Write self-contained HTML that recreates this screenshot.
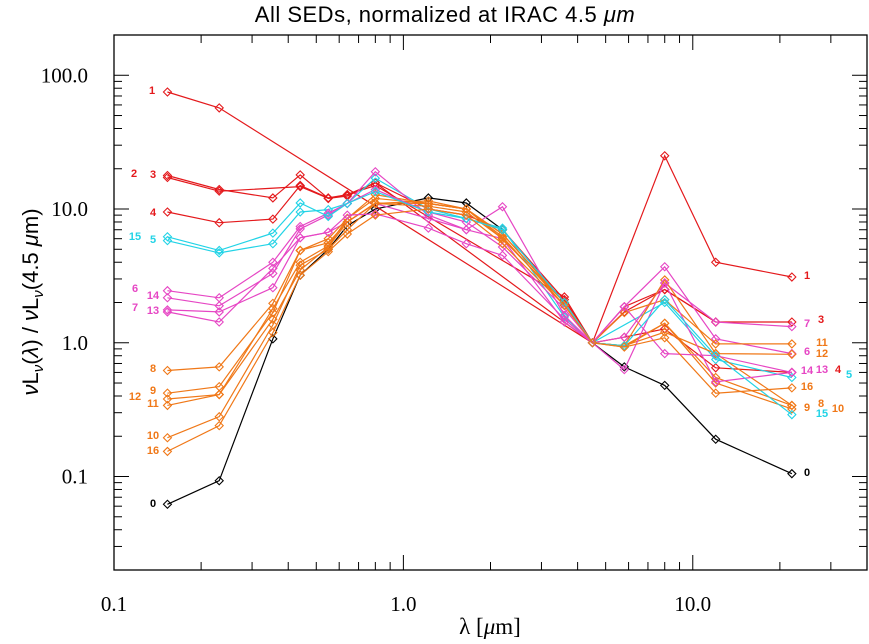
<!DOCTYPE html>
<html><head><meta charset="utf-8"><style>
body{margin:0;background:#fff;}
svg text{font-family:"Liberation Sans",sans-serif;}
svg text.serif{font-family:"Liberation Serif",serif;}
</style></head><body>
<svg id="chart" width="869" height="639" xmlns="http://www.w3.org/2000/svg">
<text x="445" y="22" text-anchor="middle" font-size="22" fill="#000" letter-spacing="0.5">All SEDs, normalized at IRAC 4.5 <tspan font-style="italic">μm</tspan></text>
<text class="serif" x="490" y="634" text-anchor="middle" font-size="23" fill="#000">λ [<tspan font-style="italic">μ</tspan>m]</text>
<text transform="translate(38,302) rotate(-90)" text-anchor="middle" font-size="22" fill="#000"><tspan font-style="italic">ν</tspan>L<tspan font-size="15" dy="5" font-style="italic">ν</tspan><tspan dy="-5">(</tspan><tspan font-style="italic">λ</tspan>)  /  <tspan font-style="italic">ν</tspan>L<tspan font-size="15" dy="5" font-style="italic">ν</tspan><tspan dy="-5">(4.5 </tspan><tspan font-style="italic">μ</tspan>m)</text>
<g id="axes"></g><g id="series"></g><g id="labels"></g>
</svg>
<script>
const wavelengths=[0.153,0.231,0.354,0.44,0.55,0.64,0.80,1.22,1.65,2.2,3.6,4.5,5.8,8.0,12,22];
const seriesIds=[0,1,2,3,4,5,6,7,8,9,10,11,12,13,14,15,16];
const s0=[0.062,0.093,1.07,3.2,5.0,7.5,10,12.1,11.1,7.0,2.0,1,0.66,0.48,0.19,0.105];
const s1=[75,57,null,null,null,null,null,null,null,null,null,1,null,25,4.0,3.1];
const s2=[17.8,14,12.1,18,12,12.5,15.7,null,null,null,null,1,1.7,2.5,1.43,null];
const s3=[17.2,13.6,null,14.7,12,12.8,15,null,null,null,2.2,1,1.86,2.5,1.43,1.43];
const s4=[9.5,7.9,8.4,15,12.1,12.8,15.7,10,9,7,2.1,1,1.1,1.27,0.65,0.60];
const s5=[5.8,4.7,5.5,9.5,9.9,11,17,10,8.5,7.2,1.56,1,null,2.0,0.75,0.55];
const s6=[2.45,2.17,4.0,7.4,9.3,11,19,9,7,10.4,1.6,1,1.86,3.7,1.07,0.83];
const s7=[1.76,1.7,2.58,6.1,6.7,8,11,8.5,7,6,1.43,1,1.1,2.8,1.43,1.32];
const s8=[0.62,0.66,1.97,4.9,6,8.5,12.8,11,10,6.5,2,1,0.95,2.95,0.83,0.34];
const s9=[0.42,0.47,1.68,4.9,5.6,8,11.1,11,10,6.5,2,1,0.95,1.4,0.55,0.34];
const s10=[0.195,0.28,1.36,3.8,5,7,11,10.5,9.5,6,2,1,0.93,1.4,0.5,0.32];
const s11=[0.34,0.41,1.8,4.0,5.3,8.5,12,11,10,6.2,1.9,1,1.68,2.1,0.98,0.98];
const s12=[0.38,0.41,1.5,3.5,5.2,8,11,11.5,10,6,2,1,0.95,1.2,0.83,0.82];
const s13=[1.7,1.43,3.6,6.1,6.7,9,9.2,7.2,5.5,4.5,1.5,1,1.86,0.83,0.8,0.6];
const s14=[2.17,1.89,3.3,7.1,9,11,14,9.5,8,5.2,1.8,1,0.63,2.8,0.51,0.60];
const s15=[6.2,4.9,6.6,11.1,8.8,11,13.5,9.5,8.5,7,2,1,0.95,2.1,0.8,0.29];
const s16=[0.154,0.24,1.19,3.2,4.8,6.5,9,10,9,5.5,1.9,1,0.93,1.09,0.42,0.46];
const xTicks=[0.1,1.0,10.0];
const xTickLabels=["0.1","1.0","10.0"];
const yTicks=[0.1,1,10,100];
const yTickLabels=["0.1","1.0","10.0","100.0"];

const allSeries=[s0,s1,s2,s3,s4,s5,s6,s7,s8,s9,s10,s11,s12,s13,s14,s15,s16];
const RED="#e4191c",CY="#22d3e6",MG="#e646c4",OR="#f07818",BK="#000";
const colors=[BK,RED,RED,RED,RED,CY,MG,MG,OR,OR,OR,OR,OR,MG,MG,CY,OR];
const L=114,R=867,T=35,B=570,XMIN=-1,XMAX=Math.log10(40),YMIN=Math.log10(0.02),YMAX=Math.log10(200);
const xs=v=>L+(Math.log10(v)-XMIN)/(XMAX-XMIN)*(R-L);
const ys=v=>B-(Math.log10(v)-YMIN)/(YMAX-YMIN)*(B-T);
const NS="http://www.w3.org/2000/svg";
function mk(tag,attrs,parent){const e=document.createElementNS(NS,tag);for(const k in attrs)e.setAttribute(k,attrs[k]);parent.appendChild(e);return e;}
const ax=document.getElementById('axes');
const frame=mk('rect',{x:L,y:T,width:R-L,height:B-T,fill:'none',stroke:'#000','stroke-width':1.3},ax);


for(let d=-1;d<=1;d++){for(let m=1;m<=9;m++){const v=m*Math.pow(10,d);if(v>40)continue;const x=xs(v);const len=m===1?15:8;
const t1=mk('line',{x1:x,x2:x,y1:B,y2:B-len,stroke:'#000','stroke-width':1},ax);


const t2=mk('line',{x1:x,x2:x,y1:T,y2:T+len,stroke:'#000','stroke-width':1},ax);

}}
xTicks.forEach((v,i)=>{const t=mk('text',{x:xs(v),y:611,'text-anchor':'middle','font-size':21,fill:'#000','class':'serif'},ax);t.textContent=xTickLabels[i];

});
for(let d=-2;d<=2;d++){for(let m=1;m<=9;m++){const v=m*Math.pow(10,d);if(v<0.02||v>200)continue;const y=ys(v);const len=m===1?15:8;
const t1=mk('line',{x1:L,x2:L+len,y1:y,y2:y,stroke:'#000','stroke-width':1},ax);


const t2=mk('line',{x1:R,x2:R-len,y1:y,y2:y,stroke:'#000','stroke-width':1},ax);

}}
yTicks.forEach((v,i)=>{const t=mk('text',{x:88,y:ys(v)+7,'text-anchor':'end','font-size':21,fill:'#000','class':'serif'},ax);t.textContent=yTickLabels[i];

});
const sg=document.getElementById('series');
allSeries.forEach((arr,si)=>{const g=mk('g',{},sg);


const pts=[];arr.forEach((v,i)=>{if(v!=null)pts.push([xs(wavelengths[i]),ys(v)]);});
const pl=mk('polyline',{points:pts.map(p=>p[0].toFixed(1)+','+p[1].toFixed(1)).join(' '),fill:'none',stroke:colors[si],'stroke-width':1.2},g);


pts.forEach(p=>{const d=mk('path',{d:`M${p[0]-4},${p[1]}L${p[0]},${p[1]-4}L${p[0]+4},${p[1]}L${p[0]},${p[1]+4}Z`,fill:'none',stroke:colors[si],'stroke-width':1.1},g);

});});
const lg=document.getElementById('labels');
const leftLab=[["1",152,94,RED],["2",134,177,RED],["3",153,178,RED],["4",153,216,RED],["15",135,240,CY],["5",153,243,CY],["6",135,292,MG],["14",153,299,MG],["7",135,311,MG],["13",153,314,MG],["8",153,372,OR],["9",153,394,OR],["12",135,400,OR],["11",153,407,OR],["10",153,439,OR],["16",153,454,OR],["0",153,507,BK]];
const rightLab=[["1",807,279,RED],["7",807,327,MG],["3",821,323,RED],["11",822,346,OR],["6",807,355,MG],["12",822,357,OR],["14",807,374,MG],["13",822,373,MG],["4",838,373,RED],["5",849,378,CY],["16",807,390,OR],["9",807,411,OR],["8",821,407,OR],["10",838,412,OR],["15",822,417,CY],["0",807,476,BK]];
leftLab.concat(rightLab).forEach(l=>{const t=mk('text',{x:l[1],y:l[2],'text-anchor':'middle','font-size':11,'font-weight':'bold',fill:l[3]},lg);t.textContent=l[0];

});
</script>
</body></html>
